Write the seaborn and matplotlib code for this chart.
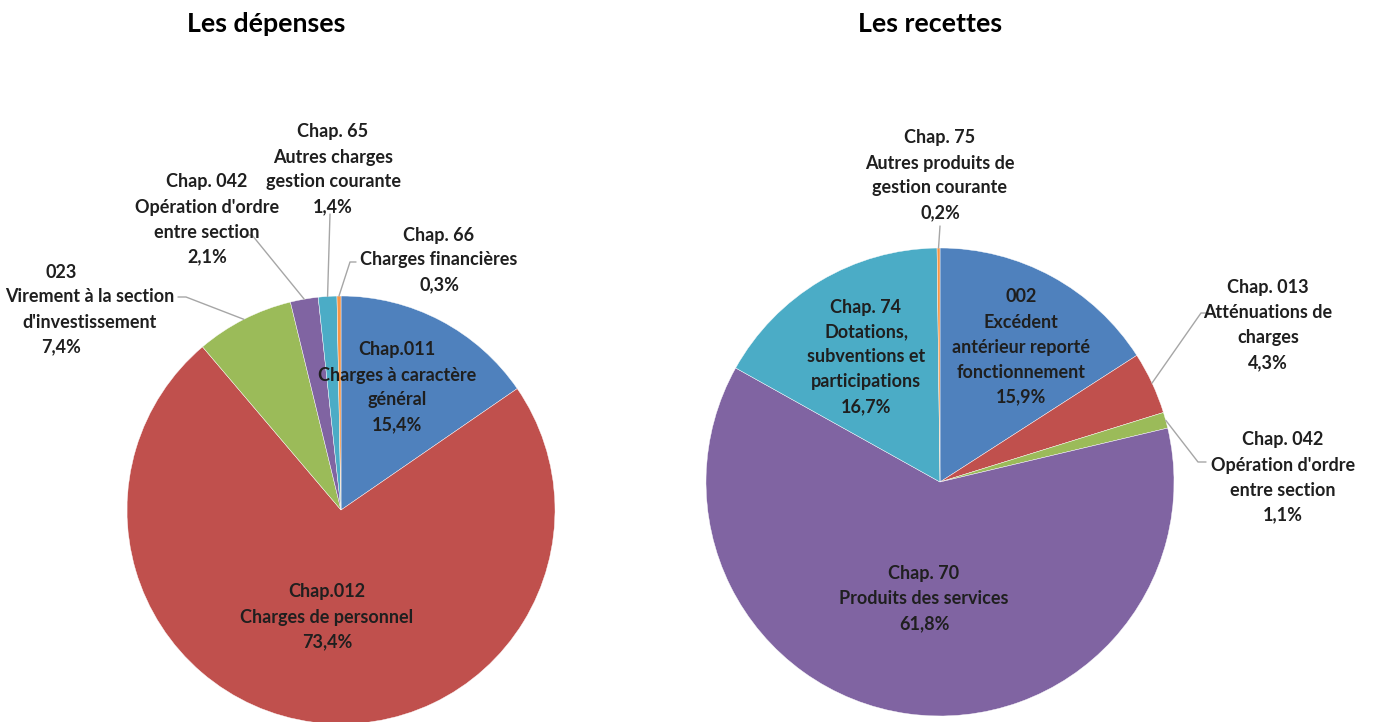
import numpy as np
import matplotlib
matplotlib.use('Agg')
import matplotlib.pyplot as plt
import seaborn as sns

# Les dépenses
dep_labels = ["Chap.011\nCharges à caractère\ngénéral", "Chap.012\nCharges de personnel",
              "023\nVirement à la section\nd'investissement", "Chap. 042\nOpération d'ordre\nentre section",
              "Chap. 65\nAutres charges\ngestion courante", "Chap. 66\nCharges financières"]
dep_values = [15.4, 73.4, 7.4, 2.1, 1.4, 0.3]

# Les recettes
rec_labels = ["002\nExcédent\nantérieur reporté\nfonctionnement", "Chap. 013\nAtténuations de\ncharges",
              "Chap. 042\nOpération d'ordre\nentre section", "Chap. 70\nProduits des services",
              "Chap. 74\nDotations,\nsubventions et\nparticipations",
              "Chap. 75\nAutres produits de\ngestion courante"]
rec_values = [15.9, 4.3, 1.1, 61.8, 16.7, 0.2]

colors = ['#4F81BD', '#C0504D', '#9BBB59', '#8064A2', '#4BACC6', '#F79646']

sns.set_theme(style='white')
plt.rcParams['font.family'] = ['Lato', 'DejaVu Sans']

W, H = 1379, 722
fig = plt.figure(figsize=(W / 100, H / 100), dpi=100)
ax = fig.add_axes([0, 0, 1, 1])


def Y(py):
    return H - py


def fmt(v):
    return f"{v:.1f}%".replace('.', ',')


def edge_point(values, i, cx, cy, r):
    tot = sum(values)
    cum = sum(values[:i]) + values[i] / 2
    th = np.deg2rad(90 - 360 * cum / tot)
    return cx + r * np.cos(th), cy + r * np.sin(th)


fs = 13
lh = 25  # line spacing in px

# layout for each label: (x center, y of first line in px)
dep_pos = [(397, 350), (327, 592), (90, 272), (207, 182), (333, 132), (439, 235)]
rec_pos = [(1021, 297), (1268, 288), (1283, 440), (924, 574), (866, 307), (940, 138)]

for values, labels, pos, cx, cy, r, title, tx in [
        (dep_values, dep_labels, dep_pos, 341, Y(510), 214, 'Les dépenses', 266),
        (rec_values, rec_labels, rec_pos, 940, Y(482), 234, 'Les recettes', 930)]:
    ax.pie(values, colors=colors, startangle=90, counterclock=False,
           center=(cx, cy), radius=r, wedgeprops=dict(linewidth=0.3, edgecolor='white'),
           frame=True)
    ax.text(tx, Y(24), title, ha='center', va='center', fontsize=19.3, fontweight='bold', color='black')
    for lab, v, (x, y0) in zip(labels, values, pos):
        lines = lab.split('\n') + [fmt(v)]
        for k, line in enumerate(lines):
            xx = x
            if v == 7.4 and (k == 0 or k == len(lines) - 1):
                xx = 61
            ax.text(xx, Y(y0 + k * lh), line, ha='center', va='center',
                    fontsize=fs, fontweight='bold', color='#1f1f1f')

ax.set_xlim(0, W)
ax.set_ylim(0, H)
ax.set_aspect('equal')
ax.axis('off')

# leader lines (label anchor -> slice edge)
lc = '#a6a6a6'
leaders = [
    (dep_values, 2, 341, Y(510), 214, [(178, 297), (186, 297)]),
    (dep_values, 3, 341, Y(510), 214, [(246, 235), (252, 235)]),
    (dep_values, 4, 341, Y(510), 214, [(330, 214)]),
    (dep_values, 5, 341, Y(510), 214, [(356, 262), (350, 262)]),
    (rec_values, 5, 940, Y(482), 234, [(940, 226)]),
    (rec_values, 1, 940, Y(482), 234, [(1209, 313), (1201, 313)]),
    (rec_values, 2, 940, Y(482), 234, [(1206, 462), (1198, 462)]),
]
for values, i, cx, cy, r, pts in leaders:
    ex, ey = edge_point(values, i, cx, cy, r)
    xs = [p[0] for p in pts] + [ex]
    ys = [Y(p[1]) for p in pts] + [ey]
    ax.plot(xs, ys, color=lc, lw=1.0)

fig.savefig('out.png', dpi=100, facecolor='white')
